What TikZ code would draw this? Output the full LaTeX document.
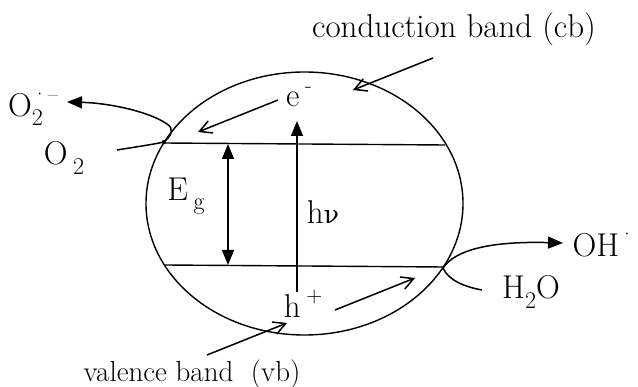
\documentclass[tikz,border=0pt]{standalone}
\usepackage{fontspec}
\newfontfamily\grk{DejaVu Serif}
\usetikzlibrary{arrows.meta,shapes.geometric}
\newcommand{\lowr}[1]{\raisebox{-0.28em}{\fontsize{24}{28}\selectfont #1}}
\newcommand{\highr}[1]{\raisebox{0.45em}{\fontsize{22}{26}\selectfont #1}}
\begin{document}
\begin{tikzpicture}[x=1pt,y=-1pt, line width=1.1pt,
  lbl/.style={inner sep=0pt, font=\fontsize{33}{40}\selectfont},
  filled/.style={-{Triangle[length=15pt,width=12pt]}},
  filledboth/.style={{Triangle[length=15pt,width=12pt]}-{Triangle[length=15pt,width=12pt]}},
  openv/.style={-{Straight Barb[length=12pt,width=13pt,line width=1.5pt]}, line width=1.5pt}]
\useasboundingbox (0,0) rectangle (638,387);
% particle
\node[draw, ellipse, minimum width=317pt, minimum height=263pt, inner sep=0pt, line width=1.4pt] (p) at (304.5,203.5) {};
% band edges
\coordinate (cbL) at (163.8,143);
\coordinate (cbR) at (445.2,145);
\coordinate (vbL) at (165,265);
\coordinate (vbR) at (444,267);
\draw[line width=1.4pt] (cbL) -- (cbR);
\draw[line width=1.4pt] (vbL) -- (vbR);
% labels
\node[lbl] (cbt) at (454,29) {conduction band (cb)};
\node[lbl, font=\fontsize{29}{34}\selectfont] (vbt) at (192,374) {valence band\ \ (vb)};
\node[lbl] (el) at (299,97) {e\,\highr{-}};
\node[lbl] (hl) at (303,304) {h\,\highr{+}};
\node[lbl] (eg) at (186,196) {E\,\lowr{g}};
\node[lbl] (hv) at (323,212) {h{\grk\fontsize{25}{30}\selectfont ν}};
\node[lbl] (o2m) at (33,109) {O\rlap{\lowr{2}}\highr{·–}};
\node[lbl] (o2) at (64,158) {O\,\lowr{2}};
\node[lbl, anchor=west] (oh) at (572,245) {OH\highr{·}};
\node[lbl] (h2o) at (531,292) {H\lowr{2}O};
% internal arrows
\coordinate (egT) at (228,144);
\coordinate (egB) at (228,265);
\draw[filledboth, line width=1.5pt] (egT) -- (egB);
\coordinate (hvS) at (297,292);
\coordinate (hvT) at (297,121);
\draw[filled, line width=1.5pt] (hvS) -- (hvT);
\coordinate (eS) at (278,100);
\coordinate (eT) at (198,132);
\draw[openv] (eS) -- (eT);
\coordinate (hS) at (335,310);
\coordinate (hT) at (415,278);
\draw[openv] (hS) -- (hT);
% band pointers
\coordinate (cbS) at (433,58);
\coordinate (cbE) at (353,90);
\draw[openv] (cbS) -- (cbE);
\coordinate (vbS) at (207,355);
\coordinate (vbE) at (287,323);
\draw[openv] (vbS) -- (vbE);
% O2 reduction
\coordinate (o2s) at (117,150);
\coordinate (jL) at (164,142);
\coordinate (o2t) at (67,102);
\draw[filled, line width=1.5pt] (o2s) .. controls (135,147) and (150,145) .. (jL)
  .. controls (171,136) and (175,129) .. (167,124)
  .. controls (150,112) and (110,103) .. (o2t);
\fill (jL) circle (2.2pt);
% H2O oxidation
\coordinate (h2s) at (482,290);
\coordinate (jR) at (443,268);
\coordinate (oht) at (563,243);
\draw[filled, line width=1.5pt] (h2s) .. controls (465,287) and (448,280) .. (jR)
  .. controls (455,250) and (490,241) .. (oht);
\end{tikzpicture}
\end{document}
